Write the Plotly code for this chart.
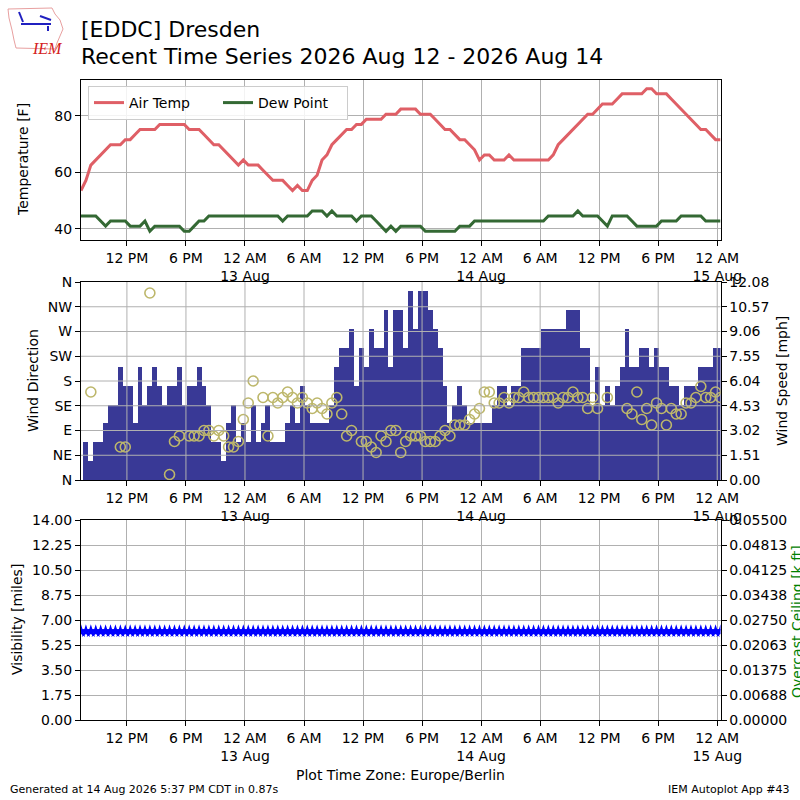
import pandas as pd
import plotly.graph_objects as go

# half-hourly METAR observations at EDDC, Europe/Berlin local time
valid = pd.date_range("2026-08-12 07:20", "2026-08-15 00:20", freq="30min")

# air temperature [F]
tmpf = [
    53.6, 57.2, 62.6, 64.4, 66.2, 68.0, 69.8, 69.8, 69.8, 71.6,
    71.6, 73.4, 75.2, 75.2, 75.2, 75.2, 77.0, 77.0, 77.0, 77.0,
    77.0, 77.0, 75.2, 75.2, 75.2, 73.4, 71.6, 69.8, 69.8, 68.0,
    66.2, 64.4, 62.6, 64.4, 62.6, 62.6, 62.6, 60.8, 59.0, 57.2,
    57.2, 57.2, 55.4, 53.6, 55.4, 53.6, 53.6, 57.2, 59.0, 64.4,
    66.2, 69.8, 71.6, 73.4, 75.2, 75.2, 77.0, 77.0, 78.8, 78.8,
    78.8, 78.8, 80.6, 80.6, 80.6, 82.4, 82.4, 82.4, 82.4, 80.6,
    80.6, 80.6, 78.8, 77.0, 75.2, 75.2, 73.4, 71.6, 71.6, 69.8,
    68.0, 64.4, 66.2, 66.2, 64.4, 64.4, 64.4, 66.2, 64.4, 64.4,
    64.4, 64.4, 64.4, 64.4, 64.4, 64.4, 66.2, 69.8, 71.6, 73.4,
    75.2, 77.0, 78.8, 80.6, 80.6, 82.4, 84.2, 84.2, 84.2, 86.0,
    87.8, 87.8, 87.8, 87.8, 87.8, 89.6, 89.6, 87.8, 87.8, 87.8,
    86.0, 84.2, 82.4, 80.6, 78.8, 77.0, 75.2, 75.2, 73.4, 71.6,
    71.6,
]

# dew point [F]
dwpf = [
    44.6, 44.6, 44.6, 44.6, 42.8, 41.0, 42.8, 42.8, 42.8, 42.8,
    41.0, 41.0, 41.0, 42.8, 39.2, 41.0, 41.0, 41.0, 41.0, 41.0,
    41.0, 39.2, 39.2, 41.0, 42.8, 42.8, 44.6, 44.6, 44.6, 44.6,
    44.6, 44.6, 44.6, 44.6, 44.6, 44.6, 44.6, 44.6, 44.6, 44.6,
    44.6, 42.8, 44.6, 44.6, 44.6, 44.6, 44.6, 46.4, 46.4, 46.4,
    44.6, 46.4, 44.6, 44.6, 44.6, 44.6, 42.8, 44.6, 44.6, 44.6,
    42.8, 41.0, 39.2, 41.0, 39.2, 41.0, 41.0, 41.0, 41.0, 41.0,
    39.2, 39.2, 39.2, 39.2, 39.2, 39.2, 39.2, 41.0, 41.0, 41.0,
    42.8, 42.8, 42.8, 42.8, 42.8, 42.8, 42.8, 42.8, 42.8, 42.8,
    42.8, 42.8, 42.8, 42.8, 42.8, 44.6, 44.6, 44.6, 44.6, 44.6,
    44.6, 46.4, 44.6, 44.6, 44.6, 44.6, 42.8, 41.0, 44.6, 44.6,
    44.6, 44.6, 42.8, 41.0, 41.0, 41.0, 41.0, 41.0, 42.8, 42.8,
    42.8, 42.8, 44.6, 44.6, 44.6, 44.6, 44.6, 42.8, 42.8, 42.8,
    42.8,
]

# wind speed [kt]
sknt = [
    None, 2, 1, 2, 2, 3, 4, 4, 6, 5,
    5, 3, 6, 4, 5, 6, 5, 4, 5, 5,
    6, 4, 5, 5, 6, 5, 4, 2, 2, 1,
    3, 4, 2, 3, 2, 4, 2, 3, 4, 2,
    2, 2, 3, 4, 3, 5, 4, 3, 3, 3,
    3, 4, 6, 7, 7, 8, 5, 7, 6, 8,
    7, 7, 9, 6, 9, 9, 7, 10, 8, 10,
    10, 9, 8, 7, 5, 3, 4, 5, 4, 3,
    3, 3, 3, 3, 4, 5, 5, 4, 5, 5,
    7, 7, 7, 7, 8, 8, 8, 8, 8, 9,
    9, 9, 7, 7, 4, 6, 4, 5, 4, 5,
    6, 8, 6, 6, 7, 7, 6, 7, 6, 6,
    5, 5, 4, 5, 5, 5, 6, 6, 6, 7,
    7,
]

# wind direction [deg], None when variable / missing
drct = [
    None, None, 160, None, None, None, None, None, 60, 60,
    None, None, None, None, 340, None, None, None, 10, 70,
    80, None, 80, 80, 80, 90, 90, 80, 90, 80,
    60, 60, 70, 110, 140, 180, None, 150, 80, 150,
    140, 150, 160, 150, 140, 150, 140, 130, 140, 130,
    120, 140, 150, 120, 80, 90, None, 70, 70, 60,
    50, 80, 70, 90, 90, 50, 70, 80, 80, 80,
    70, 70, 70, 80, 90, 80, 100, 100, 100, 110,
    120, 130, 160, 160, 140, 140, 150, 140, 150, 150,
    160, 150, 150, 150, 150, 150, 150, 140, 150, 150,
    160, 150, 150, 130, 150, 130, None, 150, None, None,
    None, 130, 120, 160, 110, 130, 100, 140, 130, 100,
    130, 120, 120, 140, 140, 150, 170, 150, 150, 160,
    150,
]

# visibility [miles], 10 km the whole period
vsby = [6.21] * len(valid)
# overcast ceiling [k ft]: none reported
ceiling = [None] * len(valid)

tick_times = [
    "2026-08-12 12:00", "2026-08-12 18:00", "2026-08-13 00:00", "2026-08-13 06:00",
    "2026-08-13 12:00", "2026-08-13 18:00", "2026-08-14 00:00", "2026-08-14 06:00",
    "2026-08-14 12:00", "2026-08-14 18:00", "2026-08-15 00:00",
]
tick_text = [
    "12 PM", "6 PM", "12 AM<br>13 Aug", "6 AM", "12 PM", "6 PM",
    "12 AM<br>14 Aug", "6 AM", "12 PM", "6 PM", "12 AM<br>15 Aug",
]
temp_ticks = [40, 60, 80]
dir_ticks = [0, 45, 90, 135, 180, 225, 270, 315, 360]
dir_labels = ["N", "NE", "E", "SE", "S", "SW", "W", "NW", "N"]
speed_ticks = [0.0, 1.51, 3.02, 4.53, 6.04, 7.55, 9.06, 10.57, 12.08]
vsby_ticks = [0.0, 1.75, 3.5, 5.25, 7.0, 8.75, 10.5, 12.25, 14.0]
ceil_ticks = [0.0, 0.006875, 0.01375, 0.020625, 0.0275, 0.034375, 0.04125, 0.048125, 0.055]
ceil_labels = ["0.00000", "0.00688", "0.01375", "0.02063", "0.02750",
               "0.03438", "0.04125", "0.04813", "0.05500"]

KT2MPH = 1.15078
smph = [None if s is None else s * KT2MPH for s in sknt]

FONT = "DejaVu Sans"
GRID = "#b0b0b0"
XRANGE = ["2026-08-12 07:20", "2026-08-15 00:20"]
XDOM = [81 / 800, 720.5 / 800]


def pdom(top, bottom):
    """pixel rows -> paper domain"""
    return [1 - bottom / 800, 1 - top / 800]


def xaxis_style(anchor, grid=True):
    return dict(domain=XDOM, anchor=anchor, type="date", range=XRANGE,
                tickmode="array", tickvals=tick_times, ticktext=tick_text,
                showgrid=grid, gridcolor=GRID, gridwidth=1,
                showline=True, linecolor="black", linewidth=1, mirror=True,
                ticks="outside", ticklen=5, tickcolor="black",
                tickfont=dict(size=14, color="black"), automargin=False,
                zeroline=False)


def yaxis_style(**kw):
    d = dict(showline=True, linecolor="black", linewidth=1,
             ticks="outside", ticklen=5, tickcolor="black",
             tickfont=dict(size=14, color="black"), automargin=False,
             zeroline=False, gridcolor=GRID, gridwidth=1)
    d.update(kw)
    return d


fig = go.Figure()

# temperature panel
fig.add_trace(go.Scatter(x=valid, y=tmpf, mode="lines", name="Air Temp",
                         line=dict(color="#df5f66", width=3), xaxis="x", yaxis="y"))
fig.add_trace(go.Scatter(x=valid, y=dwpf, mode="lines", name="Dew Point",
                         line=dict(color="#346934", width=3), xaxis="x", yaxis="y"))

# wind panel: bars = speed (right axis), circles = direction (left axis)
fig.add_trace(go.Bar(x=valid, y=smph, width=30 * 60 * 1000,
                     marker=dict(color="#393996", line=dict(width=0)),
                     showlegend=False, xaxis="x2", yaxis="y2"))
fig.add_trace(go.Scatter(x=valid, y=drct, mode="markers", showlegend=False,
                         marker=dict(symbol="circle-open", size=10, color="#bdb76b",
                                     line=dict(width=1.6, color="#bdb76b")),
                         xaxis="x2", yaxis="y3"))

# visibility panel
fig.add_trace(go.Scatter(x=valid, y=vsby, mode="markers", showlegend=False,
                         marker=dict(symbol="star", size=10, color="blue"),
                         xaxis="x3", yaxis="y4"))
fig.add_trace(go.Scatter(x=valid, y=ceiling, mode="lines", showlegend=False,
                         line=dict(color="green", width=2), xaxis="x3", yaxis="y5"))

fig.update_layout(
    width=800, height=800, template="none",
    margin=dict(l=0, r=0, t=0, b=0),
    paper_bgcolor="white", plot_bgcolor="white",
    font=dict(family=FONT, size=14, color="black"),
    bargap=0,
    xaxis=xaxis_style("y"),
    xaxis2=xaxis_style("y2", grid=False),
    xaxis3=xaxis_style("y4"),
    yaxis=yaxis_style(domain=pdom(80, 240), anchor="x", range=[36.1, 92.7],
                      tickmode="array", tickvals=temp_ticks, mirror=True,
                      showgrid=True),
    yaxis2=yaxis_style(domain=pdom(282, 480), anchor="x2", side="right",
                       range=[0, 12.08], tickmode="array", tickvals=speed_ticks,
                       ticktext=[f"{v:.2f}" for v in speed_ticks], showgrid=False),
    yaxis3=yaxis_style(overlaying="y2", anchor="x2", side="left", range=[0, 360],
                       tickmode="array", tickvals=dir_ticks, ticktext=dir_labels,
                       showgrid=False),
    yaxis4=yaxis_style(domain=pdom(520, 720), anchor="x3", range=[0, 14],
                       tickmode="array", tickvals=vsby_ticks,
                       ticktext=[f"{v:.2f}" for v in vsby_ticks], showgrid=True),
    yaxis5=yaxis_style(overlaying="y4", anchor="x3", side="right", range=[0, 0.055],
                       tickmode="array", tickvals=ceil_ticks, ticktext=ceil_labels,
                       showgrid=False),
    legend=dict(x=88 / 800, y=1 - 86 / 800, xanchor="left", yanchor="top",
                orientation="h", bgcolor="rgba(255,255,255,0.85)",
                bordercolor="#cccccc", borderwidth=1,
                font=dict(size=14), entrywidth=84, entrywidthmode="pixels"),
)

# wind panel grid sits on top of the bars, like the original
for t in tick_times:
    fig.add_shape(type="line", xref="x2", yref="y2 domain", x0=t, x1=t, y0=0, y1=1,
                  line=dict(color=GRID, width=1), layer="above")
for v in speed_ticks[1:-1]:
    fig.add_shape(type="line", xref="x2 domain", yref="y2", x0=0, x1=1, y0=v, y1=v,
                  line=dict(color=GRID, width=1), layer="above")


def note(text, x, y, size=14, angle=0, xanchor="center", color="black"):
    fig.add_annotation(text=text, x=x / 800, y=1 - y / 800, xref="paper", yref="paper",
                       showarrow=False, textangle=angle, xanchor=xanchor,
                       yanchor="middle", font=dict(family=FONT, size=size, color=color))


# titles
note("[EDDC] Dresden", 79, 30, size=22, xanchor="left")
note("Recent Time Series 2026 Aug 12 - 2026 Aug 14", 79, 56, size=22, xanchor="left")

# axis titles
note("Temperature [F]", 23, 160, angle=-90)
note("Wind Direction", 33, 381, angle=-90)
note("Wind Speed [mph]", 782, 381, angle=-90)
note("Visibility [miles]", 17, 620, angle=-90)
note("Overcast Ceiling [k ft]", 797, 622, angle=-90, color="green")

# footer
note("Plot Time Zone: Europe/Berlin", 400, 775)
note("Generated at 14 Aug 2026 5:37 PM CDT in 0.87s", 8, 789, size=11, xanchor="left")
note("IEM Autoplot App #43", 792, 789, size=11, xanchor="right")

# IEM logo (rough)
iowa = [(8, 9), (52, 8), (55, 14), (60, 20), (63, 29), (60, 36), (57, 43), (55, 49),
        (16, 48), (14, 40), (12, 30), (9, 18)]
path = "M " + " L ".join(f"{x / 800:.5f},{1 - y / 800:.5f}" for x, y in iowa) + " Z"
fig.add_shape(type="path", path=path, xref="paper", yref="paper",
              line=dict(color="#e8a0a0", width=1))
for (x0, y0, x1, y1) in [(21, 24, 51, 24), (19, 12, 23, 22), (40, 16, 51, 20), (48, 26, 48, 31)]:
    fig.add_shape(type="line", xref="paper", yref="paper",
                  x0=x0 / 800, y0=1 - y0 / 800, x1=x1 / 800, y1=1 - y1 / 800,
                  line=dict(color="#2020c0", width=2))
fig.add_annotation(text="<i>IEM</i>", x=30 / 800, y=1 - 38 / 800, xref="paper", yref="paper",
                   showarrow=False, font=dict(family="Liberation Serif", size=16, color="#d42020"))

# drop the browser's default page margin so the 800x800 figure fills the window
fig.write_html("out.html", config={"displayModeBar": False},
               post_script="document.body.style.margin='0';")
